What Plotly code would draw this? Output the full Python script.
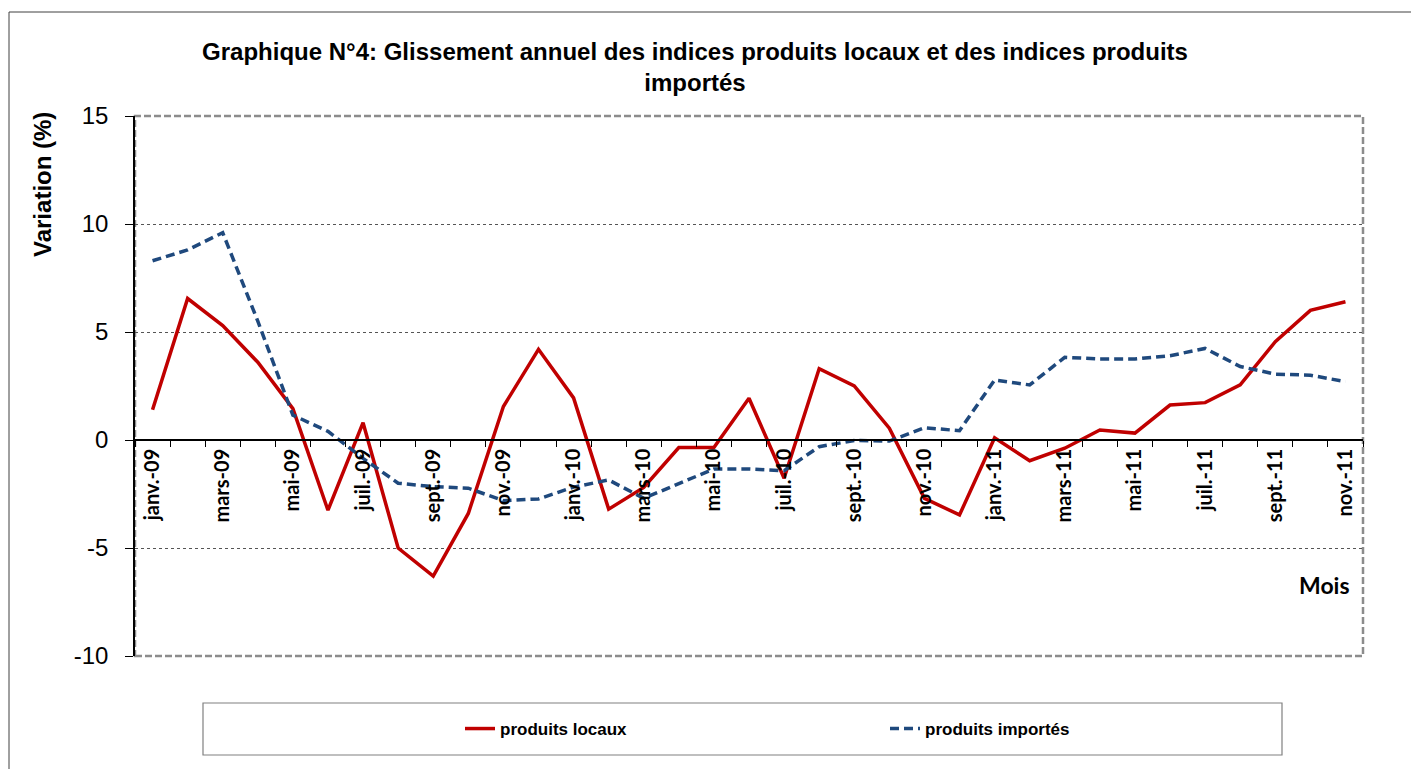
import plotly.graph_objects as go

months = ["janv.", "févr.", "mars", "avr.", "mai", "juin", "juil.", "août", "sept.", "oct.", "nov.", "déc."]
years = ["09", "10", "11"]
categories = [f"{m}-{y}" for y in years for m in months][:35]

produits_locaux = [1.4, 6.55, 5.3, 3.6, 1.45, -3.25, 0.8, -5.0, -6.3, -3.4, 1.55,
                   4.2, 1.95, -3.2, -2.2, -0.35, -0.35, 1.93, -1.77, 3.3, 2.5,
                   0.55, -2.7, -3.47, 0.1, -0.96, -0.38, 0.46, 0.32, 1.62, 1.73,
                   2.55, 4.55, 6.0, 6.4]
produits_importes = [8.3, 8.8, 9.6, 5.5, 1.15, 0.4, -0.85, -2.0, -2.16, -2.23, -2.81,
                     -2.73, -2.18, -1.85, -2.7, -2.0, -1.34, -1.34, -1.42, -0.31, -0.02,
                     -0.05, 0.57, 0.43, 2.78, 2.55, 3.83, 3.75, 3.75, 3.9, 4.24,
                     3.4, 3.05, 3.0, 2.7]

y_ticks = [15, 10, 5, 0, -5, -10]
y_tick_text = ["15", "10", "5", "0", "-5", "-10"]
x_tick_text = [c if i % 2 == 0 else "" for i, c in enumerate(categories)]

fig = go.Figure()
fig.add_trace(go.Scatter(x=categories, y=produits_locaux, mode="lines", name="produits locaux",
                         line=dict(color="#C00000", width=3.5)))
fig.add_trace(go.Scatter(x=categories, y=produits_importes, mode="lines", name="produits importés",
                         line=dict(color="#1F497D", width=3.5, dash="9px,5px")))

OFF = 8  # page body margin
W, H = 1419 - OFF, 769 - OFF
L, R, T, B = 135 - OFF, 56, 116 - OFF, 113
pw, ph = W - L - R, H - T - B


def px(x):
    return (x - OFF - L) / pw


def py(y):
    return (H - B - (y - OFF)) / ph


fig.update_layout(
    width=W, height=H,
    margin=dict(l=L, r=R, t=T, b=B),
    paper_bgcolor="white", plot_bgcolor="white",
    title=dict(text="Graphique N°4: Glissement annuel des indices produits locaux et des indices produits<br>importés",
               x=(695 - OFF) / W, xanchor="center", y=1 - (60 - OFF) / H, yanchor="top",
               font=dict(family="Liberation Sans, Arial", size=24, color="black", weight="bold")),
    xaxis=dict(type="category", range=[-0.5, 34.5], anchor="free", position=0.4,
               tickmode="array", tickvals=categories, ticktext=x_tick_text,
               tickson="boundaries", ticks="outside", ticklen=6, tickcolor="black",
               tickangle=-90, showgrid=False, showline=True, linecolor="black", linewidth=1.5,
               tickfont=dict(family="Lato, Open Sans", size=20, color="black", weight="bold")),
    yaxis=dict(range=[-10, 15], tickmode="array", tickvals=y_ticks, ticktext=y_tick_text,
               ticks="outside", ticklen=8, tickcolor="black", ticklabelstandoff=12,
               showline=True, linecolor="black", linewidth=1.5, zeroline=False,
               showgrid=True, gridcolor="#555555", gridwidth=1, griddash="dot",
               tickfont=dict(family="Liberation Sans, Arial", size=24, color="black")),
    showlegend=True,
    legend=dict(orientation="h", x=px(460), xanchor="left", y=py(729), yanchor="middle",
                bgcolor="rgba(0,0,0,0)", borderwidth=0, entrywidth=380, entrywidthmode="pixels",
                font=dict(family="Liberation Sans, Arial", size=17, color="black", weight="bold")),
)

# plot area dashed border
fig.add_shape(type="rect", xref="paper", yref="paper", x0=0, x1=1, y0=0, y1=1,
              line=dict(color="#8C8C8C", width=2.5, dash="7px,3px"), layer="below")
# outer chart border
fig.add_shape(type="rect", xref="paper", yref="paper", x0=px(9), x1=px(1440), y0=py(790), y1=py(12),
              line=dict(color="#404040", width=1))
# legend box
fig.add_shape(type="rect", xref="paper", yref="paper", x0=px(203), x1=px(1282), y0=py(755), y1=py(703),
              line=dict(color="#808080", width=1.2))

fig.add_annotation(text="Variation (%)", textangle=-90, xref="paper", yref="paper",
                   x=px(42.5), y=py(184.5), xanchor="center", yanchor="middle", showarrow=False,
                   font=dict(family="Liberation Sans, Arial", size=24, color="black", weight="bold"))
fig.add_annotation(text="Mois", xref="paper", yref="paper", x=px(1324), y=py(585),
                   xanchor="center", yanchor="middle", showarrow=False,
                   font=dict(family="Lato, Open Sans", size=23, color="black", weight="bold"))

fig.write_html("out.html")
